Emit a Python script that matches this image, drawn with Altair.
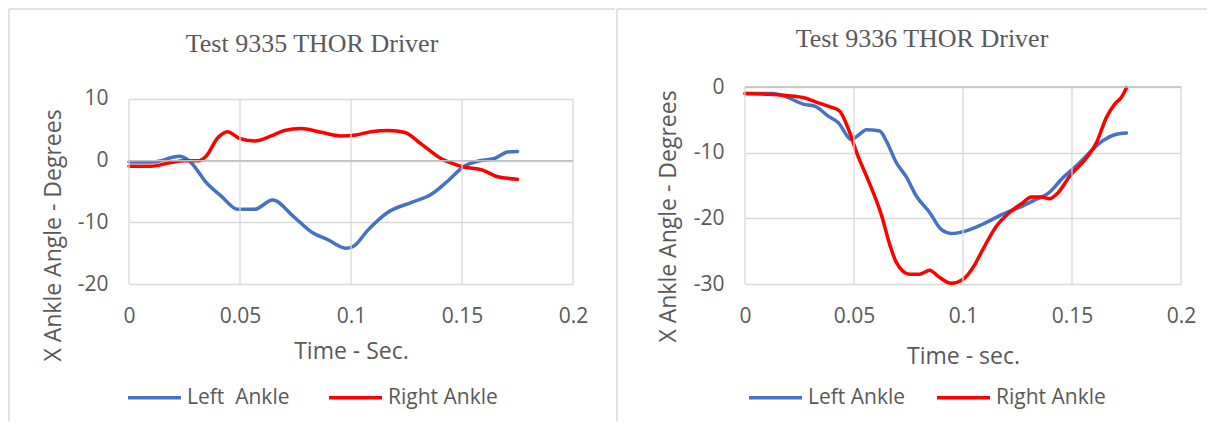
import altair as alt
import pandas as pd

# ---------------- data ----------------
XTICKS = [0, 0.05, 0.1, 0.15, 0.2]

# Test 9335
A_left_t = [0, 0.011, 0.0227, 0.027, 0.0354, 0.0414, 0.049, 0.0565, 0.0647, 0.0745, 0.0827, 0.0895,
            0.098, 0.1015, 0.1075, 0.1165, 0.127, 0.136, 0.1436, 0.151, 0.157, 0.1646, 0.1706, 0.175]
A_left_v = [-0.2, -0.2, 0.7, 0.0, -3.8, -5.7, -7.9, -7.9, -6.4, -9.2, -11.7, -12.8,
            -14.2, -13.8, -11.3, -8.4, -6.8, -5.5, -3.3, -0.9, -0.1, 0.35, 1.4, 1.5]
A_right_t = [0, 0.0098, 0.019, 0.025, 0.0317, 0.0347, 0.040, 0.0444, 0.0497, 0.0565, 0.064, 0.07,
             0.0775, 0.0865, 0.0955, 0.1015, 0.109, 0.117, 0.124, 0.132, 0.1405, 0.145, 0.151,
             0.159, 0.166, 0.175]
A_right_v = [-0.9, -0.9, -0.3, 0.0, 0.0, 0.7, 3.7, 4.7, 3.6, 3.2, 4.0, 4.9,
             5.2, 4.6, 4.0, 4.1, 4.7, 4.9, 4.6, 2.6, 0.35, -0.35, -1.05,
             -1.5, -2.6, -3.0]
A_names = ["Left\u00a0 Ankle", "Right Ankle"]
A_yticks = [-20, -10, 0, 10]

# Test 9336
B_left_t = [0, 0.0128, 0.019, 0.0266, 0.032, 0.038, 0.0427, 0.0488, 0.0518, 0.0557, 0.0618, 0.0648,
            0.0694, 0.074, 0.0786, 0.0847, 0.09, 0.0946, 0.1015, 0.109, 0.118, 0.1275, 0.1336,
            0.139, 0.1459, 0.152, 0.158, 0.164, 0.1703, 0.175]
B_left_v = [-1.0, -1.0, -1.5, -2.6, -2.9, -4.4, -5.4, -8.0, -7.4, -6.5, -6.7, -8.2,
            -11.5, -13.7, -16.6, -19.1, -21.7, -22.3, -21.9, -20.9, -19.4, -18.1, -17.1,
            -16.2, -13.8, -12.0, -10.0, -8.2, -7.2, -7.0]
B_right_t = [0, 0.0113, 0.019, 0.0266, 0.0327, 0.0388, 0.0434, 0.0472, 0.0518, 0.0564, 0.0625,
             0.0664, 0.0694, 0.0755, 0.080, 0.0847, 0.0885, 0.0946, 0.1, 0.1046, 0.109, 0.1153,
             0.1214, 0.1275, 0.1313, 0.136, 0.1398, 0.1436, 0.149, 0.1566, 0.1612, 0.1657,
             0.1696, 0.1726, 0.175]
B_right_v = [-1.0, -1.1, -1.3, -1.6, -2.3, -3.0, -3.65, -6.2, -10.5, -14.1, -19.4,
             -24.0, -26.7, -28.5, -28.5, -27.9, -28.8, -29.9, -29.3, -27.5, -24.8, -21.2,
             -19.1, -17.6, -16.75, -16.75, -17.0, -16.1, -13.55, -10.8, -8.5, -4.7,
             -2.6, -1.6, -0.1]
B_names = ["Left Ankle", "Right Ankle"]
B_yticks = [-30, -20, -10, 0]

# ---------------- styling ----------------
FONT = "Open Sans"
SERIF = "Liberation Serif"
TXT = "#595959"
GRID = "#D9D9D9"
ZERO = "#BFBFBF"
FRAME = "#D9D9D9"
BLUE = "#4472C4"
RED = "#FF0000"
H = 197

one = pd.DataFrame({"k": [0]})


def series_df(t1, v1, t2, v2, names):
    return pd.DataFrame({
        "t": t1 + t2,
        "v": v1 + v2,
        "s": [names[0]] * len(t1) + [names[1]] * len(t2),
    })


def vrule(x, y1, y2, opacity=1.0):
    return alt.Chart(one).mark_rule(color=FRAME, strokeWidth=1.5, strokeOpacity=opacity).encode(
        x=alt.value(x), y=alt.value(y1), y2=alt.value(y2))


def hrule(x1, x2, y):
    return alt.Chart(one).mark_rule(color=FRAME, strokeWidth=1.5).encode(
        x=alt.value(x1), x2=alt.value(x2), y=alt.value(y))


def panel(df, names, ydom, yticks, gtop, gbot, width, title, tpos, xtitle, xtitle_y,
          ytitle_pos, lpos, colpad, frames):
    x = alt.X("t:Q", scale=alt.Scale(domain=[0, 0.2], nice=False, zero=False),
              axis=alt.Axis(values=XTICKS, labelExpr="'' + datum.value", grid=False,
                            domain=False, ticks=False, tickSize=0, labelFlush=False,
                            labelFont=FONT, labelFontSize=21, labelColor=TXT, labelPadding=21,
                            title=xtitle, titleFont=FONT, titleFontSize=23,
                            titleFontWeight="normal", titleColor=TXT,
                            titleY=xtitle_y, titleBaseline="middle"))
    y = alt.Y("v:Q", scale=alt.Scale(domain=ydom, nice=False, zero=False),
              axis=alt.Axis(values=yticks, labelExpr="'' + datum.value", grid=True,
                            gridColor=GRID, gridWidth=1.3, domain=False, ticks=False, tickSize=0,
                            labelFlush=False,
                            labelFont=FONT, labelFontSize=21, labelColor=TXT, labelPadding=21,
                            title="X Ankle Angle - Degrees", titleFont=FONT, titleFontSize=23,
                            titleFontWeight="normal", titleColor=TXT,
                            titleX=ytitle_pos[0], titleY=ytitle_pos[1], titleBaseline="middle"))

    vgrid = alt.Chart(pd.DataFrame({"t": XTICKS})).mark_rule(color=GRID, strokeWidth=1.3).encode(
        x=alt.X("t:Q"), y=alt.datum(gtop), y2=alt.datum(gbot))
    zero = alt.Chart(one).mark_rule(color=ZERO, strokeWidth=1.5).encode(
        x=alt.datum(0), x2=alt.datum(0.2), y=alt.datum(0))
    lines = alt.Chart(df).mark_line(strokeWidth=3.5, interpolate="monotone",
                                    strokeCap="round", strokeJoin="round").encode(
        x=x, y=y,
        color=alt.Color("s:N", sort=names,
                        scale=alt.Scale(domain=names, range=[BLUE, RED]),
                        legend=alt.Legend(title=None, orient="none", legendX=lpos[0], legendY=lpos[1],
                                          direction="horizontal", symbolType="stroke",
                                          symbolSize=2809, symbolStrokeWidth=3.5,
                                          labelFont=FONT, labelFontSize=21, labelColor=TXT,
                                          labelOffset=4, columnPadding=colpad, padding=0)))
    ttl = alt.Chart(one).mark_text(text=title, font=SERIF, fontSize=26, color=TXT,
                                   align="center", baseline="middle").encode(
        x=alt.value(tpos[0]), y=alt.value(tpos[1]))
    return alt.layer(lines, vgrid, zero, ttl, *frames).properties(width=width, height=H)


# left panel: plot y from 86 to 283 page; visible grid 10..-20
dfA = series_df(A_left_t, A_left_v, A_right_t, A_right_v, A_names)
left = panel(dfA, A_names, [-20, 11.94], A_yticks, 10, -20, 444,
             "Test 9335 THOR Driver", (183, -43), "Time - Sec.", 67,
             (-76, 148), (-3, 282), 32,
             [hrule(-120, 486, -78), vrule(-120, -78, 334), vrule(486, -78, 334, 0.0)])

dfB = series_df(B_left_t, B_left_v, B_right_t, B_right_v, B_names)
right = panel(dfB, B_names, [-30, 0], B_yticks, 0, -30, 436,
              "Test 9336 THOR Driver", (177, -48), "Time - sec.", 72,
              (-77, 129), (2, 282), 24,
              [hrule(-128, 462, -78), vrule(-128, -78, 334)])

chart = alt.hconcat(left, right, spacing=0).resolve_scale(
    x="independent", y="independent", color="independent"
).properties(padding=0).configure_view(strokeWidth=0)

chart.save("out.html", embed_options={"renderer": "svg", "actions": False})
